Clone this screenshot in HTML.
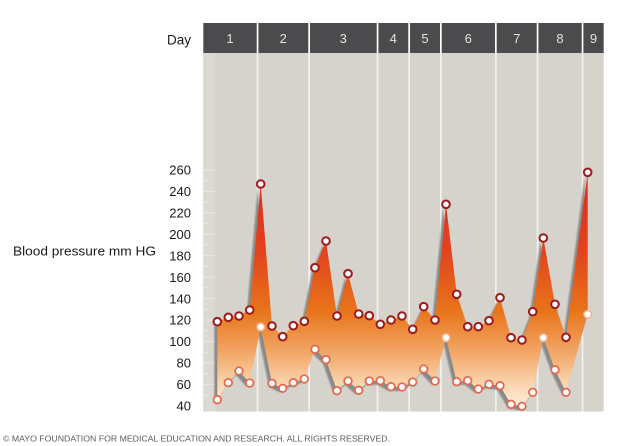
<!DOCTYPE html>
<html><head><meta charset="utf-8"><style>
html,body{margin:0;padding:0;background:#fff;}
svg{display:block;}
text{font-family:"Liberation Sans",Arial,sans-serif;}
</style></head><body>
<svg width="632" height="446" viewBox="0 0 632 446" xmlns="http://www.w3.org/2000/svg">
<defs>
<linearGradient id="g" gradientUnits="userSpaceOnUse" x1="0" y1="170" x2="0" y2="405">
<stop offset="0" stop-color="#dc2a20"/>
<stop offset="0.35" stop-color="#e2441c"/>
<stop offset="0.6" stop-color="#e8741a"/>
<stop offset="0.78" stop-color="#f2a868"/>
<stop offset="0.92" stop-color="#fad8b4"/>
<stop offset="1" stop-color="#fdebd8"/>
</linearGradient>
<filter id="b" x="-5%" y="-5%" width="110%" height="110%"><feGaussianBlur stdDeviation="0.8"/></filter>
</defs>
<!-- panel -->
<rect x="203.3" y="53" width="400.4" height="358.5" fill="#d6d2cc"/>
<rect x="203.3" y="53" width="12" height="358.5" fill="#dcd8d2"/>
<!-- separators -->
<g fill="#f3f1ec">
<rect x="256.7" y="53" width="1.7" height="358.5"/>
<rect x="308.3" y="53" width="1.7" height="358.5"/>
<rect x="376.7" y="53" width="1.7" height="358.5"/>
<rect x="408.3" y="53" width="1.7" height="358.5"/>
<rect x="440" y="53" width="1.7" height="358.5"/>
<rect x="495" y="53" width="1.7" height="358.5"/>
<rect x="536.7" y="53" width="1.7" height="358.5"/>
<rect x="581.7" y="53" width="1.7" height="358.5"/>
</g>
<!-- ticks -->
<g stroke="#f0eee9" stroke-width="1" opacity="0.8">
<line x1="203" y1="170" x2="215" y2="170"/><line x1="203" y1="191.4" x2="215" y2="191.4"/><line x1="203" y1="212.9" x2="215" y2="212.9"/><line x1="203" y1="234.3" x2="215" y2="234.3"/><line x1="203" y1="255.7" x2="215" y2="255.7"/><line x1="203" y1="277.1" x2="215" y2="277.1"/><line x1="203" y1="298.6" x2="215" y2="298.6"/><line x1="203" y1="320" x2="215" y2="320"/><line x1="203" y1="341.4" x2="215" y2="341.4"/><line x1="203" y1="362.9" x2="215" y2="362.9"/><line x1="203" y1="384.3" x2="215" y2="384.3"/>
<line x1="203" y1="180.7" x2="208" y2="180.7"/><line x1="203" y1="202.1" x2="208" y2="202.1"/><line x1="203" y1="223.6" x2="208" y2="223.6"/><line x1="203" y1="245" x2="208" y2="245"/><line x1="203" y1="266.4" x2="208" y2="266.4"/><line x1="203" y1="287.9" x2="208" y2="287.9"/><line x1="203" y1="309.3" x2="208" y2="309.3"/><line x1="203" y1="330.7" x2="208" y2="330.7"/><line x1="203" y1="352.1" x2="208" y2="352.1"/><line x1="203" y1="373.6" x2="208" y2="373.6"/><line x1="203" y1="395" x2="208" y2="395"/>
</g>
<!-- header -->
<g fill="#4b4b4d">
<rect x="203.3" y="23" width="53.4" height="30"/>
<rect x="258.4" y="23" width="49.9" height="30"/>
<rect x="310" y="23" width="66.7" height="30"/>
<rect x="378.4" y="23" width="29.9" height="30"/>
<rect x="410" y="23" width="30" height="30"/>
<rect x="441.7" y="23" width="53.3" height="30"/>
<rect x="496.7" y="23" width="40" height="30"/>
<rect x="538.4" y="23" width="43.3" height="30"/>
<rect x="583.4" y="23" width="20.3" height="30"/>
</g>
<g fill="#e2e2e2" font-size="13" text-anchor="middle">
<text x="230" y="43">1</text><text x="283.3" y="43">2</text><text x="343.3" y="43">3</text><text x="393.3" y="43">4</text><text x="425" y="43">5</text><text x="468.3" y="43">6</text><text x="516.7" y="43">7</text><text x="560" y="43">8</text><text x="593.5" y="43">9</text>
</g>
<text x="167" y="44.5" font-size="13.5" fill="#1a1a1a">Day</text>
<!-- y labels -->
<g font-size="13" fill="#1a1a1a" text-anchor="end">
<text x="191" y="174.7">260</text><text x="191" y="196.1">240</text><text x="191" y="217.6">220</text><text x="191" y="239">200</text><text x="191" y="260.4">180</text><text x="191" y="281.8">160</text><text x="191" y="303.3">140</text><text x="191" y="324.7">120</text><text x="191" y="346.1">100</text><text x="191" y="367.6">80</text><text x="191" y="389">60</text><text x="191" y="410.4">40</text>
</g>
<text x="13" y="255.5" font-size="13" fill="#1a1a1a" textLength="143" lengthAdjust="spacingAndGlyphs">Blood pressure mm HG</text>
<!-- shadow -->
<polygon transform="translate(-3,4)" filter="url(#b)" fill="#8a8a8a" points="217.3,321.7 228.3,317.3 239,316 249.7,310 260.7,184 272,326 282.7,336.7 293.3,325.7 304.3,321.3 315,267.7 326,241 337,316 348,273.7 358.7,314 369.3,315.7 380.3,324.3 391,320 402,316 412.7,329.3 423.7,306.7 435,320 446,204.3 456.7,294.3 467.7,326.7 478.3,326.7 489,320.7 500,297.7 511,337.7 522,340 532.7,311.7 543.3,238 555,304.3 566,337.3 587.7,172.3 587.7,314.3 566,392.3 555,369.7 543.3,337.7 532.7,392.3 522,406.3 511,404.3 500,385.7 489,384.3 478.3,389 467.7,380.7 456.7,381.7 446,337.7 435,381 423.7,369 412.7,382 402,387 391,386.7 380.3,380.7 369.3,381 358.7,390.3 348,381 337,390.7 326,359.7 315,349.3 304.3,379 293.3,382.7 282.7,388.3 272,383.3 260.7,327 249.7,383 239,371 228.3,382.7 217.3,399.7"/>
<!-- fill -->
<polygon fill="url(#g)" points="217.3,321.7 228.3,317.3 239,316 249.7,310 260.7,184 272,326 282.7,336.7 293.3,325.7 304.3,321.3 315,267.7 326,241 337,316 348,273.7 358.7,314 369.3,315.7 380.3,324.3 391,320 402,316 412.7,329.3 423.7,306.7 435,320 446,204.3 456.7,294.3 467.7,326.7 478.3,326.7 489,320.7 500,297.7 511,337.7 522,340 532.7,311.7 543.3,238 555,304.3 566,337.3 587.7,172.3 587.7,314.3 566,392.3 555,369.7 543.3,337.7 532.7,392.3 522,406.3 511,404.3 500,385.7 489,384.3 478.3,389 467.7,380.7 456.7,381.7 446,337.7 435,381 423.7,369 412.7,382 402,387 391,386.7 380.3,380.7 369.3,381 358.7,390.3 348,381 337,390.7 326,359.7 315,349.3 304.3,379 293.3,382.7 282.7,388.3 272,383.3 260.7,327 249.7,383 239,371 228.3,382.7 217.3,399.7"/>
<!-- diastolic markers -->
<g fill="#fff" stroke="#e4674c" stroke-width="1.7">
<circle cx="217.3" cy="399.7" r="3.8"/><circle cx="228.3" cy="382.7" r="3.8"/><circle cx="239" cy="371" r="3.8"/><circle cx="249.7" cy="383" r="3.8"/><circle cx="272" cy="383.3" r="3.8"/><circle cx="282.7" cy="388.3" r="3.8"/><circle cx="293.3" cy="382.7" r="3.8"/><circle cx="304.3" cy="379" r="3.8"/><circle cx="315" cy="349.3" r="3.8"/><circle cx="326" cy="359.7" r="3.8"/><circle cx="337" cy="390.7" r="3.8"/><circle cx="348" cy="381" r="3.8"/><circle cx="358.7" cy="390.3" r="3.8"/><circle cx="369.3" cy="381" r="3.8"/><circle cx="380.3" cy="380.7" r="3.8"/><circle cx="391" cy="386.7" r="3.8"/><circle cx="402" cy="387" r="3.8"/><circle cx="412.7" cy="382" r="3.8"/><circle cx="423.7" cy="369" r="3.8"/><circle cx="435" cy="381" r="3.8"/><circle cx="456.7" cy="381.7" r="3.8"/><circle cx="467.7" cy="380.7" r="3.8"/><circle cx="478.3" cy="389" r="3.8"/><circle cx="489" cy="384.3" r="3.8"/><circle cx="500" cy="385.7" r="3.8"/><circle cx="511" cy="404.3" r="3.8"/><circle cx="522" cy="406.3" r="3.8"/><circle cx="532.7" cy="392.3" r="3.8"/><circle cx="555" cy="369.7" r="3.8"/><circle cx="566" cy="392.3" r="3.8"/>
</g>
<g fill="#fff" stroke="#f3b592" stroke-width="1.5">
<circle cx="260.7" cy="327" r="3.8"/><circle cx="446" cy="337.7" r="3.8"/><circle cx="543.3" cy="337.7" r="3.8"/><circle cx="587.7" cy="314.3" r="3.8"/>
</g>
<!-- systolic markers -->
<g fill="#fff" stroke="#9c1a1a" stroke-width="2">
<circle cx="217.3" cy="321.7" r="3.8"/><circle cx="228.3" cy="317.3" r="3.8"/><circle cx="239" cy="316" r="3.8"/><circle cx="249.7" cy="310" r="3.8"/><circle cx="260.7" cy="184" r="3.8"/><circle cx="272" cy="326" r="3.8"/><circle cx="282.7" cy="336.7" r="3.8"/><circle cx="293.3" cy="325.7" r="3.8"/><circle cx="304.3" cy="321.3" r="3.8"/><circle cx="315" cy="267.7" r="3.8"/><circle cx="326" cy="241" r="3.8"/><circle cx="337" cy="316" r="3.8"/><circle cx="348" cy="273.7" r="3.8"/><circle cx="358.7" cy="314" r="3.8"/><circle cx="369.3" cy="315.7" r="3.8"/><circle cx="380.3" cy="324.3" r="3.8"/><circle cx="391" cy="320" r="3.8"/><circle cx="402" cy="316" r="3.8"/><circle cx="412.7" cy="329.3" r="3.8"/><circle cx="423.7" cy="306.7" r="3.8"/><circle cx="435" cy="320" r="3.8"/><circle cx="446" cy="204.3" r="3.8"/><circle cx="456.7" cy="294.3" r="3.8"/><circle cx="467.7" cy="326.7" r="3.8"/><circle cx="478.3" cy="326.7" r="3.8"/><circle cx="489" cy="320.7" r="3.8"/><circle cx="500" cy="297.7" r="3.8"/><circle cx="511" cy="337.7" r="3.8"/><circle cx="522" cy="340" r="3.8"/><circle cx="532.7" cy="311.7" r="3.8"/><circle cx="543.3" cy="238" r="3.8"/><circle cx="555" cy="304.3" r="3.8"/><circle cx="566" cy="337.3" r="3.8"/><circle cx="587.7" cy="172.3" r="3.8"/>
</g>
<!-- copyright -->
<text x="3" y="441.5" font-size="8" fill="#5a5a5a" textLength="387" lengthAdjust="spacingAndGlyphs">© MAYO FOUNDATION FOR MEDICAL EDUCATION AND RESEARCH. ALL RIGHTS RESERVED.</text>
</svg>
</body></html>
